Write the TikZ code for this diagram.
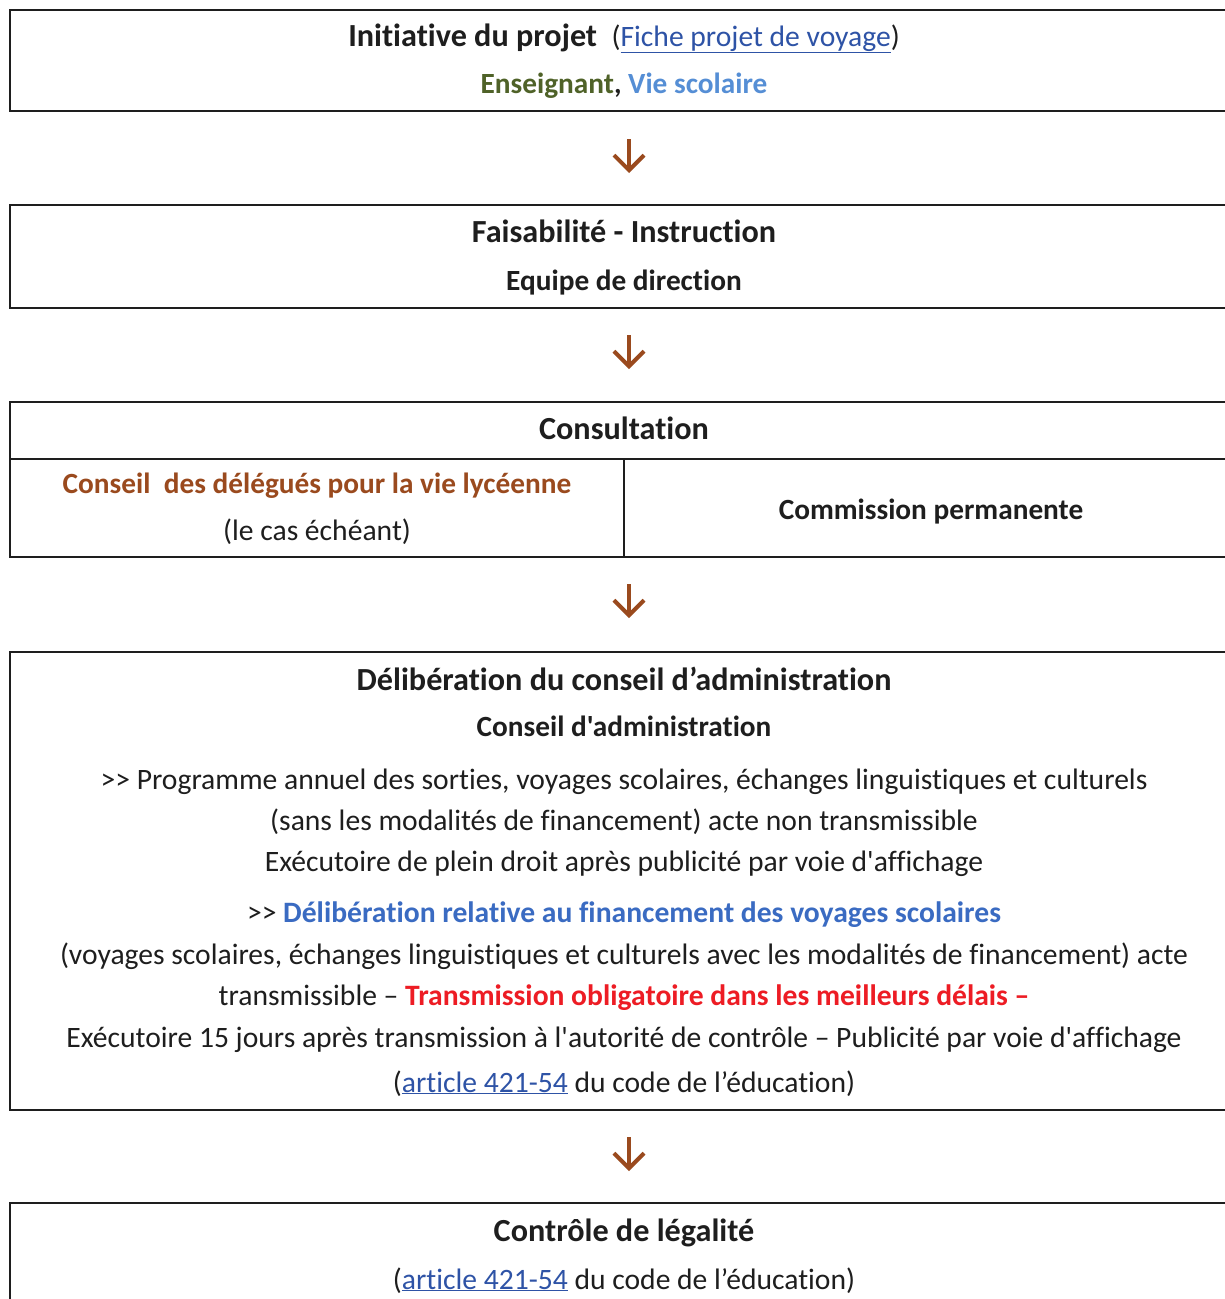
\documentclass[tikz,border=0pt]{standalone}
\usepackage{fontspec}
\setmainfont{Carlito}[Ligatures={TeXOff,NoCommon}]
\usetikzlibrary{arrows.meta}
\definecolor{ink}{HTML}{1E1E1E}
\definecolor{olive}{HTML}{4F6228}
\definecolor{lightblue}{HTML}{558ED5}
\definecolor{linkblue}{HTML}{2E53A6}
\definecolor{brownc}{HTML}{9A4A1E}
\definecolor{boldblue}{HTML}{3A6BC2}
\definecolor{redc}{HTML}{ED1C24}
\newcommand{\lnk}[1]{{\color{linkblue}\underline{#1}}}
\newcommand{\szT}{\fontsize{32.2}{38}\selectfont\bfseries}
\newcommand{\szS}{\fontsize{29.3}{35}\selectfont\bfseries}
\newcommand{\szB}{\fontsize{29.6}{35}\selectfont}
\begin{document}
\begin{tikzpicture}[x=1pt,y=-1pt,
  box/.style={draw=ink, line width=2pt, rectangle, anchor=north west, inner sep=0pt, outer sep=0pt},
  ttl/.style={anchor=base, inner sep=0pt, text=ink, font=\szT},
  sub/.style={anchor=base, inner sep=0pt, text=ink, font=\szS},
  body/.style={anchor=base, inner sep=0pt, text=ink, font=\szB},
  arr/.style={draw=brownc, line width=4pt, -{Straight Barb[length=15pt, width=30pt]}}]
\useasboundingbox (0,0) rectangle (1225,1299);
\clip (0,0) rectangle (1225,1299);
\fill[white] (0,0) rectangle (1225,1299);

% Box 1
\node[box, minimum width=1228pt, minimum height=101pt] (b1) at (10,10) {};
\node[ttl] (t1a) at (624,46) {Initiative du projet\ \ {\mdseries\szB(\lnk{Fiche projet de voyage})}};
\node[sub] (t1b) at (624,93) {{\color{olive}Enseignant}, {\color{lightblue}Vie scolaire}};

% Box 2
\node[box, minimum width=1228pt, minimum height=103pt] (b2) at (10,205) {};
\node[ttl] (t2a) at (624,242) {Faisabilité - Instruction};
\node[sub] (t2b) at (624,290) {Equipe de direction};

% Box 3
\node[box, minimum width=1228pt, minimum height=57pt] (b3) at (10,402) {};
\node[box, minimum width=614pt, minimum height=98pt] (b3l) at (10,459) {};
\node[box, minimum width=614pt, minimum height=98pt] (b3r) at (624,459) {};
\node[ttl] (t3a) at (624,439) {Consultation};
\node[sub, text=brownc] (t3b) at (317,493) {Conseil\ \ des délégués pour la vie lycéenne};
\node[body] (t3c) at (317,540) {(le cas échéant)};
\node[sub] (t3d) at (931,519) {Commission permanente};

% Box 4
\node[box, minimum width=1228pt, minimum height=458pt] (b4) at (10,652) {};
\node[ttl] (t4a) at (624,690) {Délibération du conseil d’administration};
\node[sub] (t4b) at (624,736) {Conseil d'administration};
\node[body] (t4c) at (624,789) {>> Programme annuel des sorties, voyages scolaires, échanges linguistiques et culturels};
\node[body] (t4d) at (624,830) {(sans les modalités de financement) acte non transmissible};
\node[body] (t4e) at (624,871) {Exécutoire de plein droit après publicité par voie d'affichage};
\node[body] (t4f) at (624,922) {>> {\bfseries\color{boldblue}Délibération relative au financement des voyages scolaires}};
\node[body] (t4g) at (624,964) {(voyages scolaires, échanges linguistiques et culturels avec les modalités de financement) acte};
\node[body] (t4h) at (624,1005) {transmissible – {\bfseries\color{redc}Transmission obligatoire dans les meilleurs délais –}};
\node[body] (t4i) at (624,1047) {Exécutoire 15 jours après transmission à l'autorité de contrôle – Publicité par voie d'affichage};
\node[body] (t4j) at (624,1092) {(\lnk{article 421-54} du code de l’éducation)};

% Box 5
\node[box, minimum width=1228pt, minimum height=120pt] (b5) at (10,1203) {};
\node[ttl] (t5a) at (624,1241) {Contrôle de légalité};
\node[body] (t5b) at (624,1289) {(\lnk{article 421-54} du code de l’éducation)};

% Arrows
\coordinate (a1s) at (629,139); \coordinate (a1e) at (629,173);
\coordinate (a2s) at (629,335); \coordinate (a2e) at (629,369);
\coordinate (a3s) at (629,584); \coordinate (a3e) at (629,618);
\coordinate (a4s) at (629,1137); \coordinate (a4e) at (629,1171);
\draw[arr] (a1s) -- (a1e);
\draw[arr] (a2s) -- (a2e);
\draw[arr] (a3s) -- (a3e);
\draw[arr] (a4s) -- (a4e);
\end{tikzpicture}
\end{document}
